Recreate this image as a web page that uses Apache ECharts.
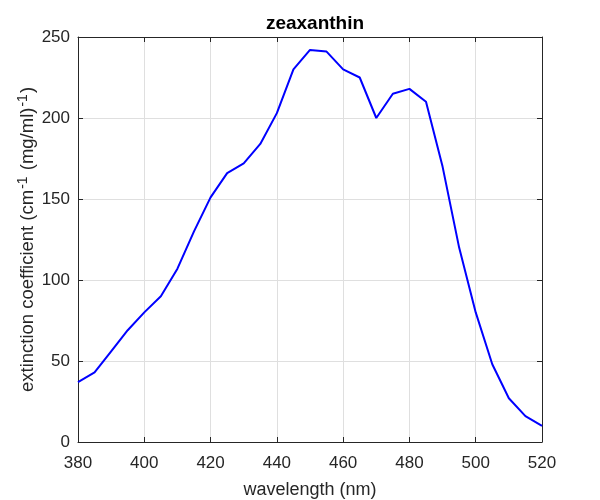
<!DOCTYPE html>
<html>
<head>
<meta charset="utf-8">
<script src="https://cdn.jsdelivr.net/npm/echarts@6/dist/echarts.min.js"></script>
<style>html,body{margin:0;padding:0;background:#fff}#c{width:600px;height:500px}</style>
</head>
<body>
<div id="c"></div>
<script>
const wavelengths = [380,385,390,395,400,405,410,415,420,425,430,435,440,445,450,455,460,465,470,475,480,485,490,495,500,505,510,515,520];
const extinction = [37,43,56,69,80,90,107,130,151,166,172,184,203,230,242,241,230,225,200,215,218,210,170,120,80,48,27,16,10];
const xTicks = [380,400,420,440,460,480,500,520];
const yTicks = [0,50,100,150,200,250];
const titleText = 'zeaxanthin';
const xLabel = 'wavelength (nm)';

const FONT = '"Liberation Sans", Arial, Helvetica, sans-serif';
const TXT = '#262626';
const chart = echarts.init(document.getElementById('c'), null, {renderer:'canvas'});
const axisCommon = {
  axisLine:{show:true, onZero:false, lineStyle:{color:TXT, width:1}},
  axisTick:{show:true, inside:true, length:5, lineStyle:{color:TXT, width:1}},
  splitLine:{show:false}
};
chart.setOption({
  animation:false,
  title:{text:titleText, left:310, top:9, textAlign:'center',
    textStyle:{fontFamily:FONT, fontSize:19, fontWeight:'bold', color:'#000'}},
  grid:{left:78, right:58, top:37, bottom:58, containLabel:false, outerBoundsMode:'none'},
  xAxis:[
    Object.assign({}, axisCommon, {type:'value', min:380, max:520, interval:20, position:'bottom',
      name:xLabel, nameLocation:'middle', nameGap:39, nameMoveOverlap:false,
      nameTextStyle:{fontFamily:FONT, fontSize:18, color:TXT},
      axisLabel:{fontFamily:FONT, fontSize:17, color:TXT, margin:13},
      splitLine:{show:true, lineStyle:{color:'#dfdfdf', width:1}}}),
    Object.assign({}, axisCommon, {type:'value', min:380, max:520, interval:20, position:'top',
      axisLabel:{show:false}})
  ],
  yAxis:[
    Object.assign({}, axisCommon, {type:'value', min:0, max:250, interval:50, position:'left',
      name:'{n|extinction coefficient (cm}{s|-1}{n| (mg/ml)}{s|-1}{n|)}',
      nameLocation:'middle', nameGap:38, nameRotate:90, nameMoveOverlap:false,
      nameTextStyle:{fontFamily:FONT, fontSize:18.5, color:TXT,
        rich:{n:{fontFamily:FONT, fontSize:18.5, color:TXT, lineHeight:24},
              s:{fontFamily:FONT, fontSize:14, color:TXT, lineHeight:24, padding:[0,1,10,1]}}},
      axisLabel:{fontFamily:FONT, fontSize:17, color:TXT, margin:8},
      splitLine:{show:true, lineStyle:{color:'#dfdfdf', width:1}}}),
    Object.assign({}, axisCommon, {type:'value', min:0, max:250, interval:50, position:'right',
      axisLabel:{show:false}})
  ],
  series:[{
    type:'line', xAxisIndex:0, yAxisIndex:0,
    data:wavelengths.map((w,i)=>[w, extinction[i]]),
    showSymbol:false, symbol:'none',
    lineStyle:{color:'#0000ff', width:2},
    itemStyle:{color:'#0000ff'}
  }]
});
</script>
</body>
</html>
